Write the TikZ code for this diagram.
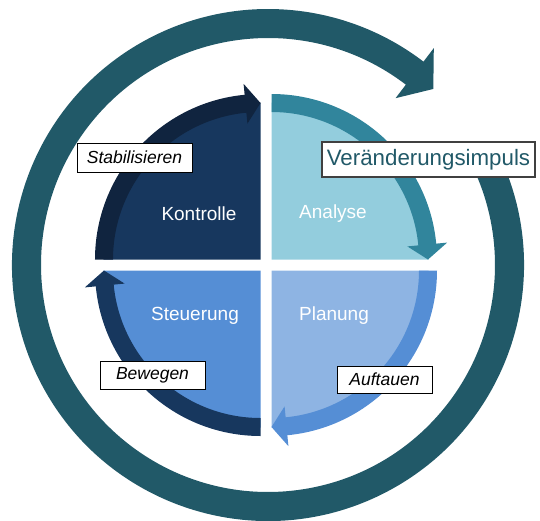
\documentclass[tikz,border=0pt]{standalone}
\usepackage{fontspec}
\setmainfont{Liberation Sans}
\definecolor{ringteal}{HTML}{215968}
\definecolor{kontrollefill}{HTML}{17375E}
\definecolor{kontrolleband}{HTML}{10243F}
\definecolor{analysefill}{HTML}{93CDDD}
\definecolor{analyseband}{HTML}{31859C}
\definecolor{steuerungfill}{HTML}{558ED5}
\definecolor{steuerungband}{HTML}{17375E}
\definecolor{planungfill}{HTML}{8EB4E3}
\definecolor{planungband}{HTML}{558ED5}
% one quarter: filled sector plus a curved arrow on its rim, running clockwise
% #1 corner shift, #2 start angle, #3 sector colour, #4 arrow colour
\newcommand{\drawquad}[4]{%
  \begin{scope}[shift={#1}]
    \fill[#3] (0,0) -- (#2:157) arc[start angle=#2,end angle={#2-90},radius=157] -- cycle;
    \fill[#4] (#2:165.5) arc[start angle=#2,end angle={#2-84.5},radius=165.5]
      -- ({#2-84.5}:176.5) -- ({#2-90}:156.5) -- ({#2-84.5}:136.5)
      -- ({#2-84.5}:147.5) arc[start angle={#2-84.5},end angle=#2,radius=147.5] -- cycle;
  \end{scope}}
\begin{document}
\begin{tikzpicture}[x=1pt,y=1pt,
  quadlabel/.style={text=white,font=\fontsize{19}{19}\selectfont},
  tagbox/.style={draw=black,line width=0.8pt,fill=white,inner sep=0pt,
    font=\itshape\fontsize{17.5}{17.5}\selectfont},
  impulsbox/.style={draw=black!75,line width=1.2pt,fill=white,inner sep=0pt,
    text=ringteal,font=\fontsize{22.3}{22.3}\selectfont}]
\useasboundingbox (-266,-255) rectangle (274,265);

% outer cycle arrow
\begin{scope}[shift={(2,0)}]
  \fill[ringteal] (28:256) arc[start angle=28,end angle=-307.4,radius=256]
    -- (52.6:273) -- (46.8:241.5) -- (52.6:210) -- (52.6:227)
    arc[start angle=-307.4,end angle=28,radius=227] -- cycle;
\end{scope}

% the four phases
\drawquad{(-5.5,5.5)}{180}{kontrollefill}{kontrolleband}
\drawquad{(5.5,5.5)}{90}{analysefill}{analyseband}
\drawquad{(5.5,-5.5)}{0}{planungfill}{planungband}
\drawquad{(-5.5,-5.5)}{-90}{steuerungfill}{steuerungband}

\node[quadlabel] (kontrolle) at (-67,51) {Kontrolle};
\node[quadlabel] (analyse) at (67,51) {Analyse};
\node[quadlabel] (steuerung) at (-71,-51) {Steuerung};
\node[quadlabel] (planung) at (68,-51) {Planung};

% labels of the transitions
\node[tagbox,minimum width=115,minimum height=29] (stab) at (-131.5,107.5) {Stabilisieren};
\node[tagbox,minimum width=105,minimum height=28] (beweg) at (-113.5,-110) {Bewegen};
\node[tagbox,minimum width=95,minimum height=27] (auft) at (118.5,-114.5) {Auftauen};
\node[impulsbox,minimum width=213,minimum height=35] (impuls) at (162.5,105.5) {Veränderungsimpuls};
\end{tikzpicture}
\end{document}
